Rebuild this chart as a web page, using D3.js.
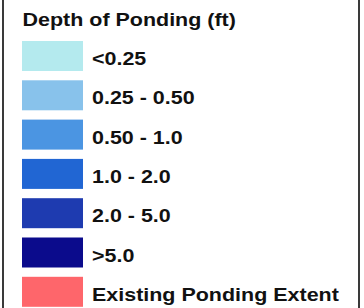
<!DOCTYPE html>
<html><head><meta charset="utf-8">
<script src="https://cdn.jsdelivr.net/npm/d3@7"></script>
<style>html,body{margin:0;padding:0;background:#fff;}svg{display:block;}</style>
</head><body>
<script>
const title = "Depth of Ponding (ft)";
const categories = ["<0.25", "0.25 - 0.50", "0.50 - 1.0", "1.0 - 2.0", "2.0 - 5.0", ">5.0", "Existing Ponding Extent"];
const colors = ["#b4eaee", "#88c2eb", "#4b95e2", "#2166d3", "#1e3bb0", "#0b0b8c", "#fe666b"];

const W = 364, H = 308;
const svg = d3.select("body").append("svg").attr("width", W).attr("height", H);

// frame (only side borders visible)
svg.append("line").attr("x1", 3).attr("x2", 3).attr("y1", 0).attr("y2", H).attr("stroke", "#3a3a3a").attr("stroke-width", 2);
svg.append("line").attr("x1", 359).attr("x2", 359).attr("y1", 0).attr("y2", H).attr("stroke", "#3a3a3a").attr("stroke-width", 2);

const idx = d3.scaleLinear().domain([0, categories.length - 1]).range([41, 276.8]);
const y = d => idx(categories.indexOf(d));

const fontFam = "'Liberation Sans', Arial, sans-serif";
const sx = 1.13;

svg.append("text")
  .attr("transform", `translate(22.5,25.5) scale(${sx},1)`)
  .attr("font-family", fontFam).attr("font-weight", "bold").attr("font-size", 19)
  .attr("fill", "#111").text(title);

const rows = svg.selectAll("g.row").data(categories).enter().append("g").attr("class", "row");
rows.append("rect")
  .attr("x", 22).attr("width", 61)
  .attr("y", d => y(d)).attr("height", 30)
  .attr("fill", (d, i) => colors[i]);
rows.append("text")
  .attr("transform", d => `translate(92,${y(d) + 24}) scale(${sx},1)`)
  .attr("font-family", fontFam).attr("font-weight", "bold").attr("font-size", 19)
  .attr("fill", "#111").text(d => d);
</script>
</body></html>
